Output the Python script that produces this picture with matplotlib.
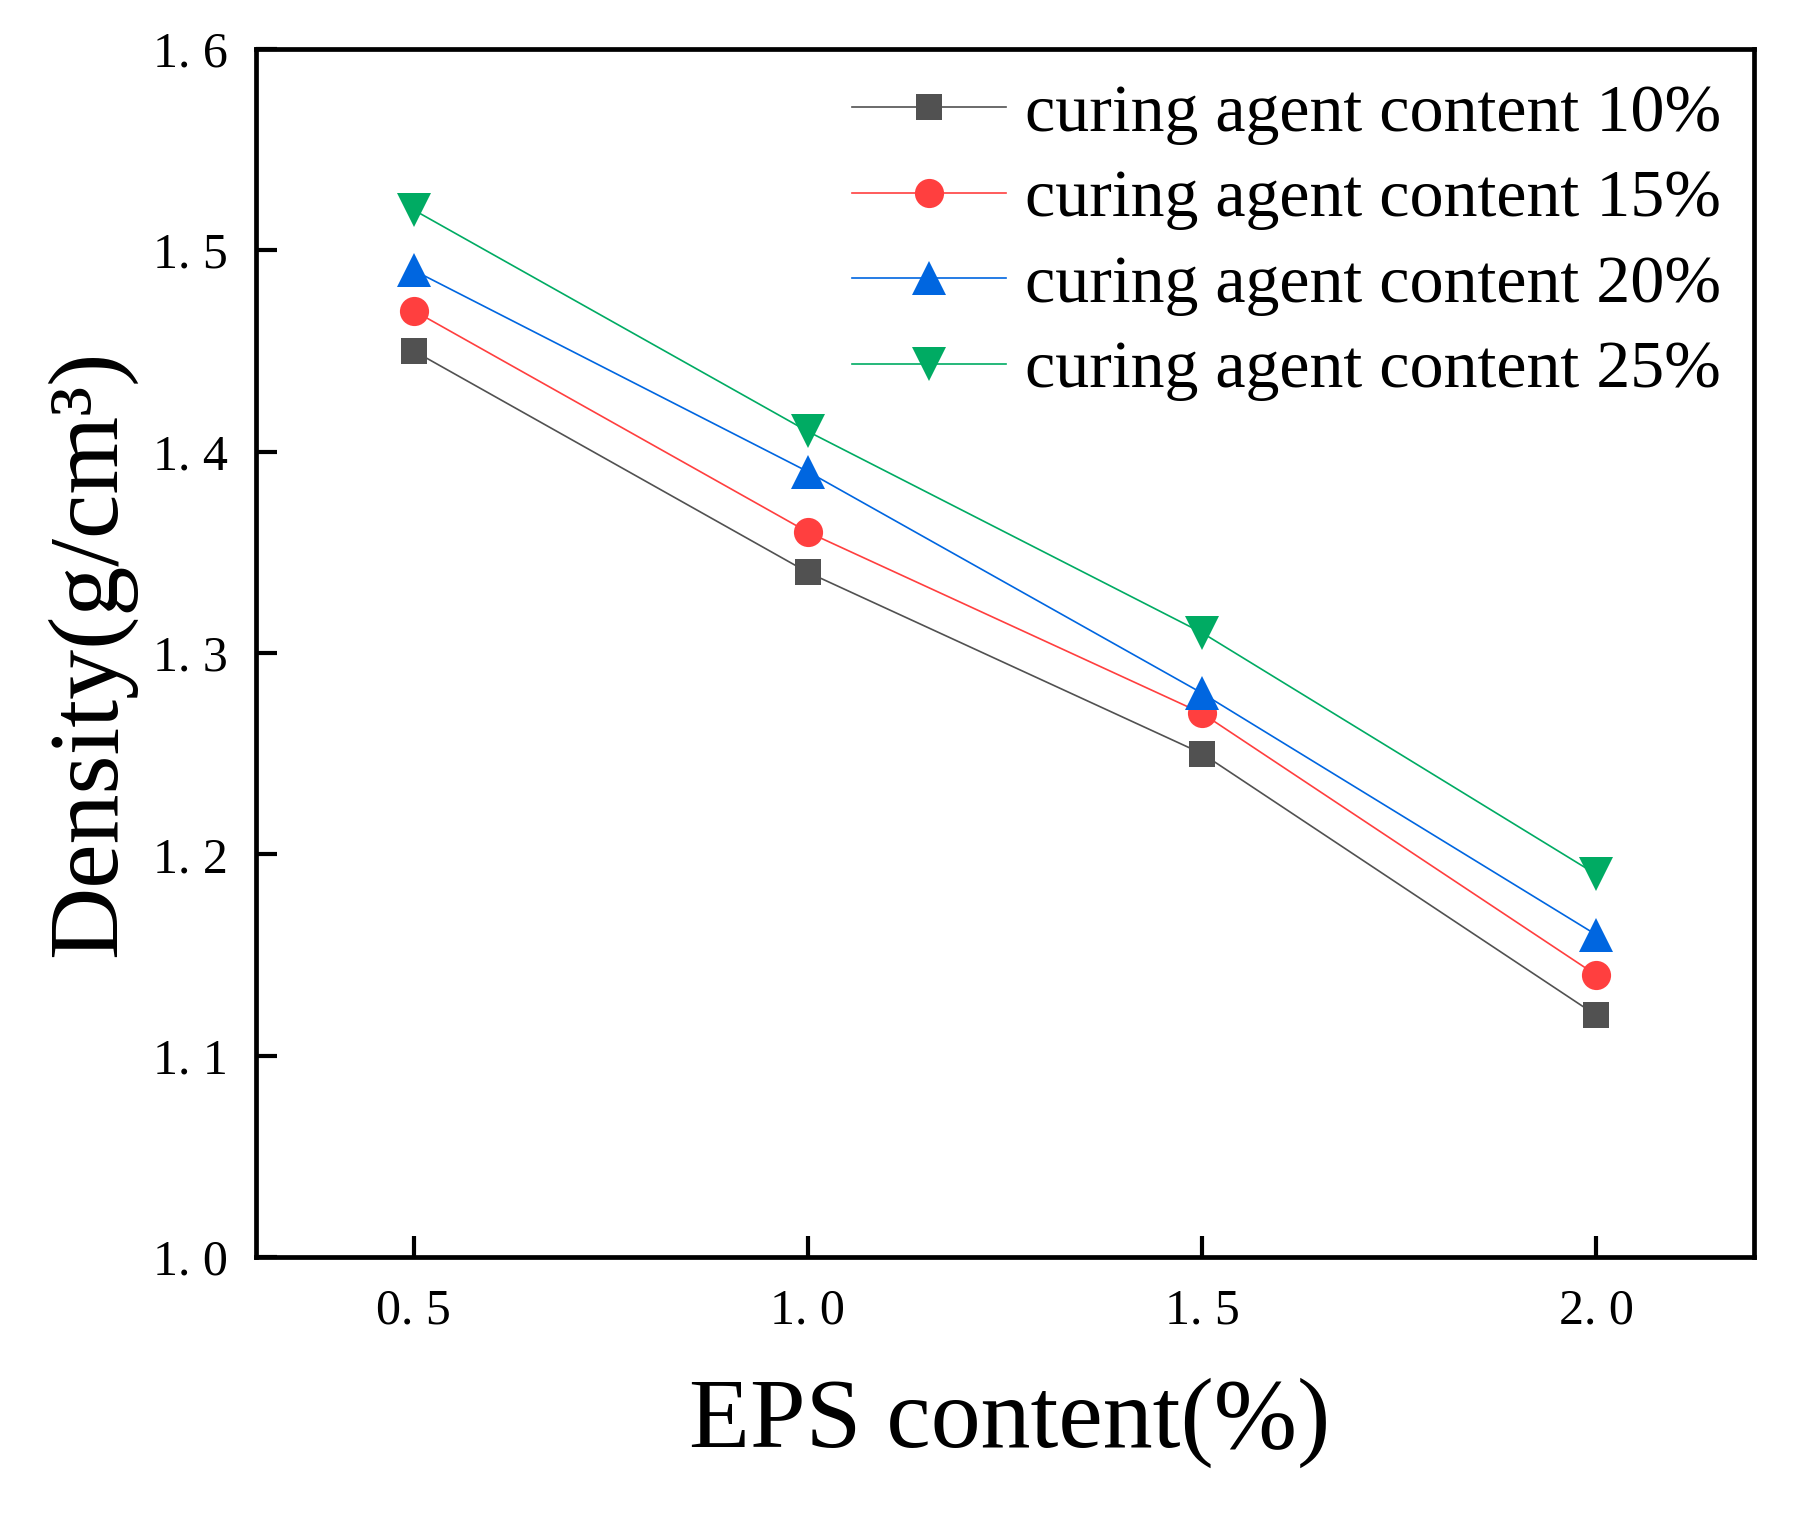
import numpy as np
import matplotlib
matplotlib.use("Agg")
import matplotlib.pyplot as plt

plt.rcParams['font.family'] = ['Liberation Serif', 'DejaVu Serif']

# data
eps_content = [0.5, 1.0, 1.5, 2.0]
density_10 = [1.45, 1.34, 1.25, 1.12]
density_15 = [1.47, 1.36, 1.27, 1.14]
density_20 = [1.49, 1.39, 1.28, 1.16]
density_25 = [1.52, 1.41, 1.31, 1.19]
series_labels = ['curing agent content 10%', 'curing agent content 15%',
                 'curing agent content 20%', 'curing agent content 25%']
x_ticks = [0.5, 1.0, 1.5, 2.0]
y_ticks = [1.0, 1.1, 1.2, 1.3, 1.4, 1.5, 1.6]

colors = ['#515151', '#FF3F3F', '#0066E0', '#00AB63']
markers = ['s', 'o', '^', 'v']
msizes = [19, 21, 24, 24]

fig = plt.figure(figsize=(18.05, 15.16), dpi=100)
ax = fig.add_axes([0.1418, 0.1708, 0.830, 0.797])

all_series = [density_10, density_15, density_20, density_25]
for vals, lab, c, m, ms in zip(all_series, series_labels, colors, markers, msizes):
    ax.plot(eps_content, vals, color=c, lw=1.2, marker=m, markersize=ms,
            markeredgewidth=0, label=lab)

ax.set_xlim(0.3, 2.2)
ax.set_ylim(1.0, 1.6)
ax.set_xticks(x_ticks)
ax.set_xticklabels([('%.1f' % v).replace('.', '. ') for v in x_ticks])
ax.set_yticks(y_ticks)
ax.set_yticklabels([('%.1f' % v).replace('.', '. ') for v in y_ticks])

for sp in ax.spines.values():
    sp.set_linewidth(3.4)
ax.tick_params(axis='both', direction='in', length=15, width=3.0, labelsize=36)
ax.tick_params(axis='x', pad=22)
ax.tick_params(axis='y', pad=20)

ax.set_xlabel('EPS content(%)', fontsize=72)
ax.xaxis.set_label_coords(0.503, -0.10)
ax.set_ylabel('Density(g/cm³)', fontsize=72)
ax.yaxis.set_label_coords(-0.080, 0.5)

ax.legend(loc='upper left', bbox_to_anchor=(852 / 1805, 0.945),
          bbox_transform=fig.transFigure, frameon=False, fontsize=49,
          handlelength=2.26, handletextpad=0.28, labelspacing=0.35,
          borderpad=0, borderaxespad=0)

fig.savefig('out.png', dpi=100)
